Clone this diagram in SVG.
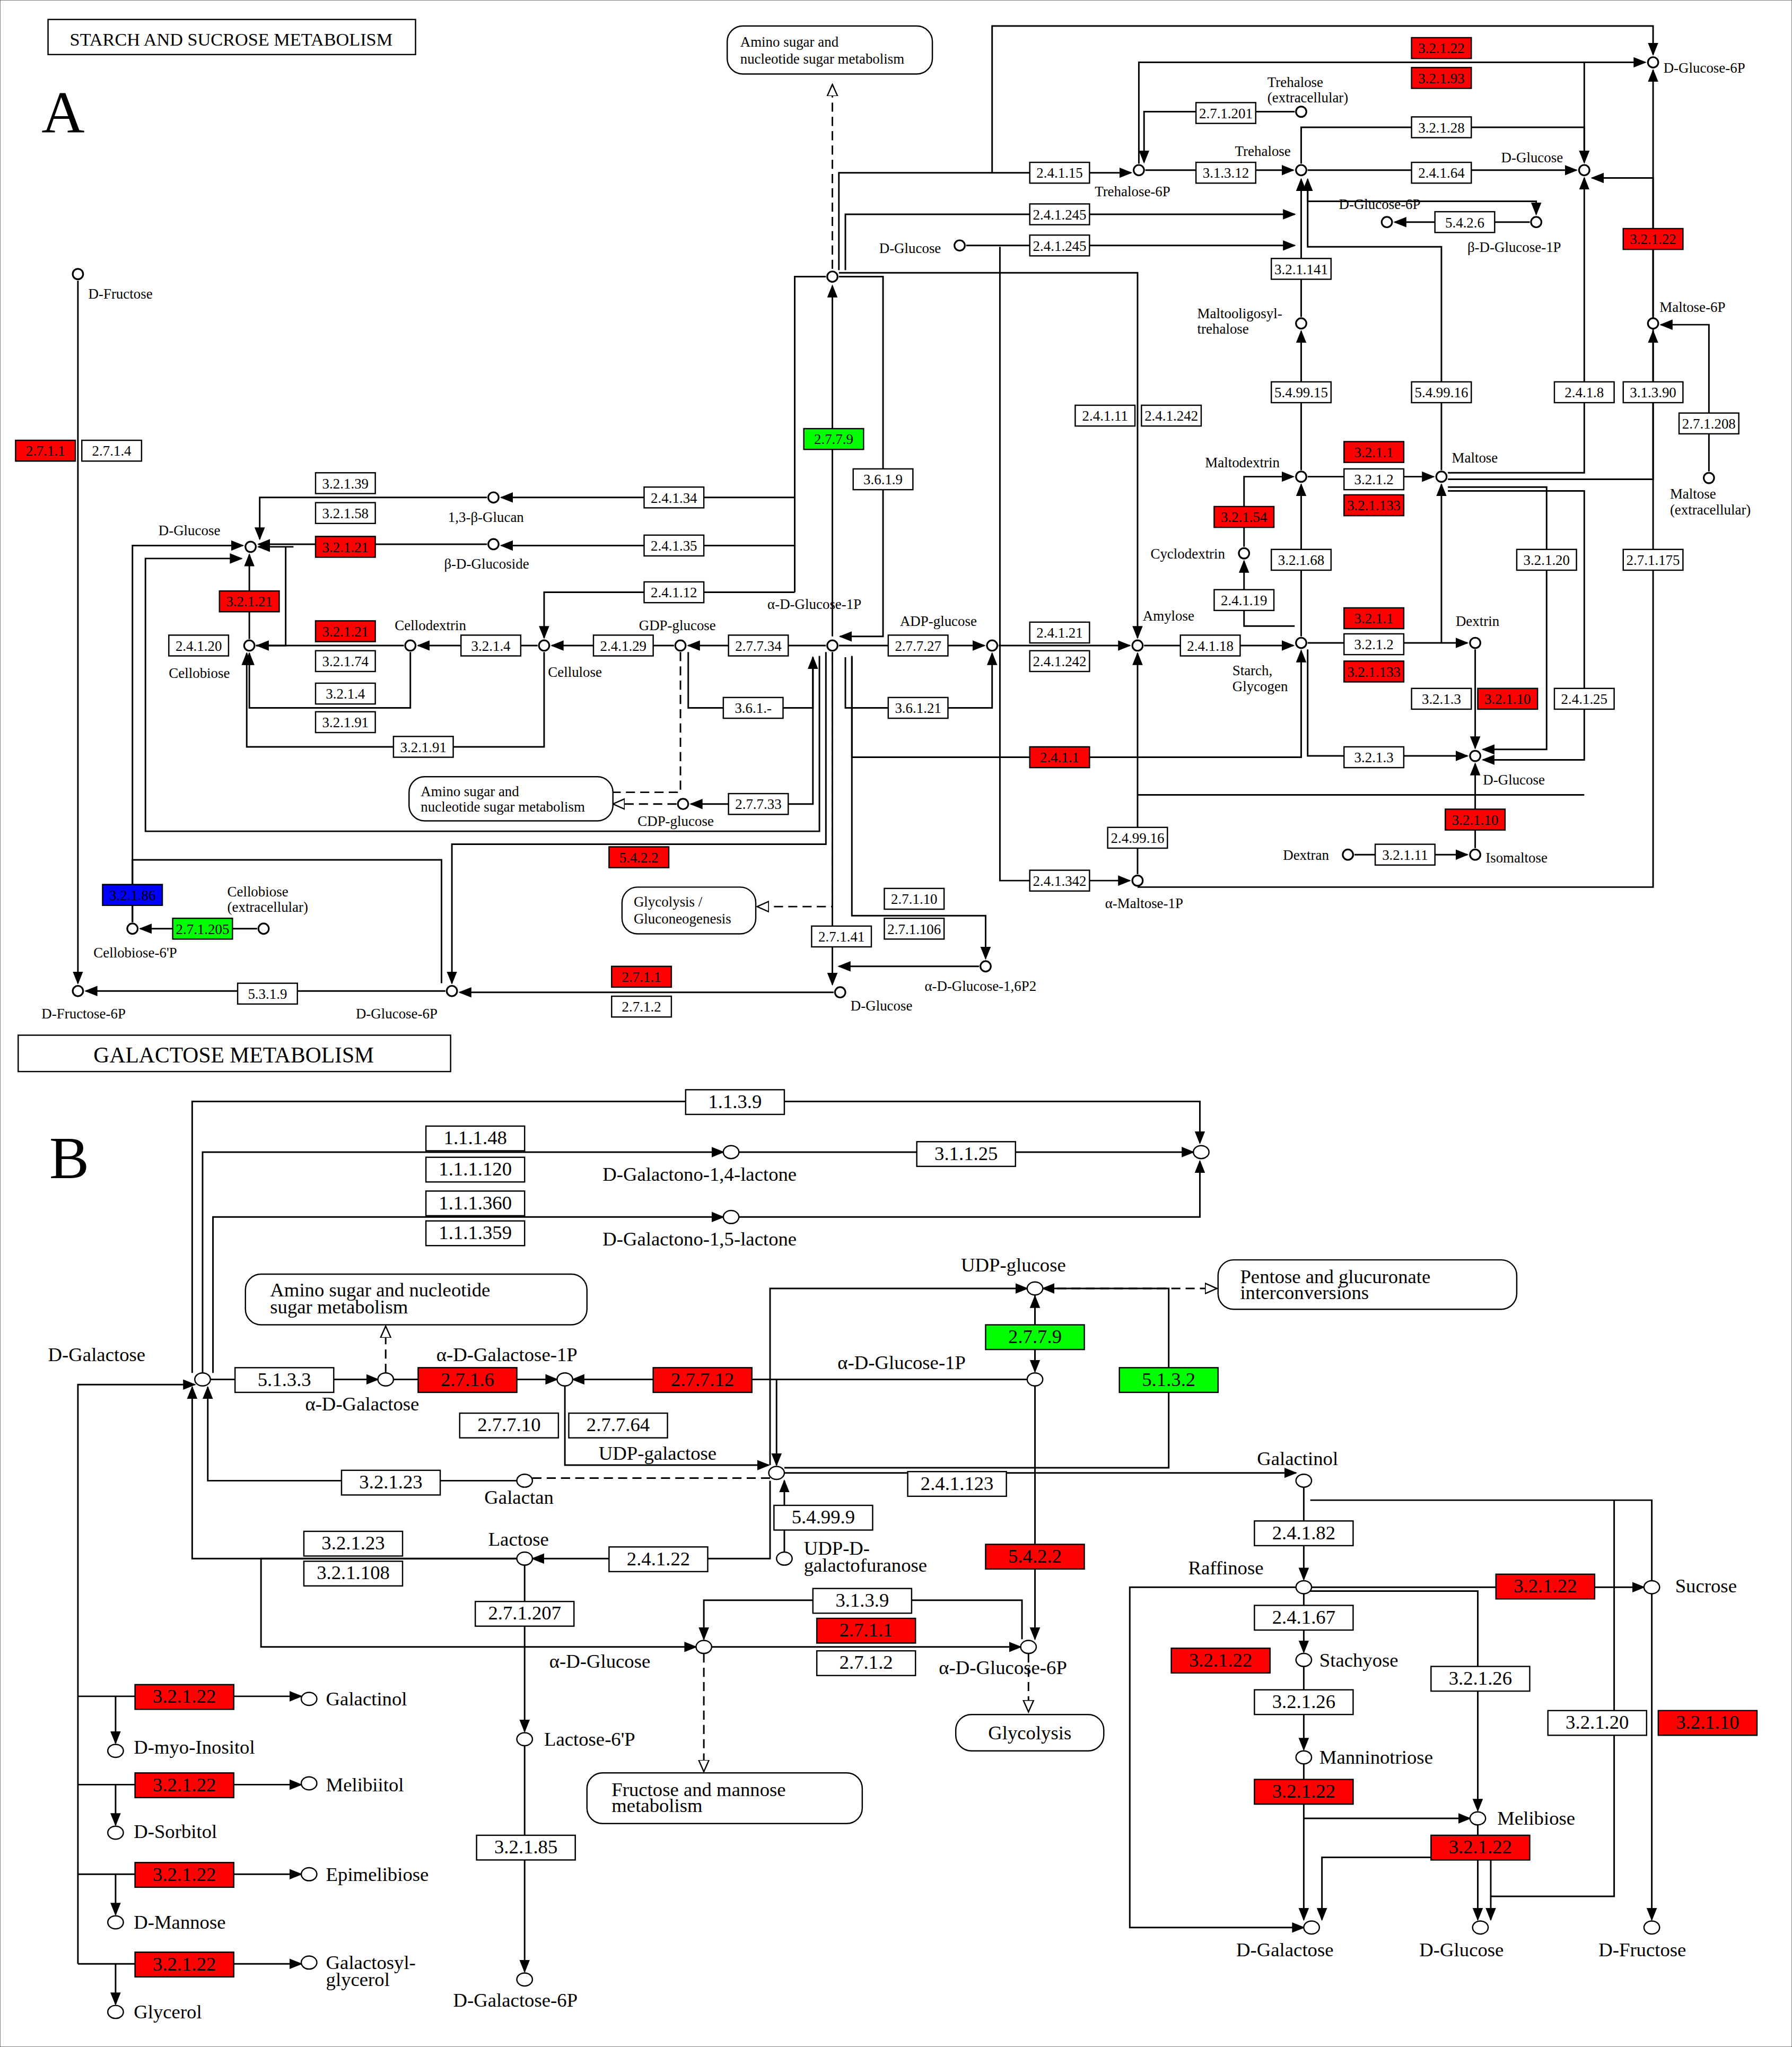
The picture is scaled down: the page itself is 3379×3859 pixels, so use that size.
<svg xmlns="http://www.w3.org/2000/svg" width="3379" height="3859" viewBox="0 0 3379 3859">
<style>
text{font-family:"Liberation Serif",serif;fill:#000}
.a text{font-size:11px}
.bb text{font-size:15px}
rect{stroke:#000;stroke-width:1;fill:#fff}
.r rect{fill:#f00}
.g rect{fill:#0f0}
.u rect{fill:#00f}
circle{fill:#fff;stroke:#000;stroke-width:1.3}
.c path{fill:none;stroke:#000;stroke-width:1.2;marker-end:url(#ar)}
.c path.n{marker-end:none}
.c path.d{stroke-dasharray:7 4;marker-end:url(#op)}
.c path.dn{stroke-dasharray:7 4;marker-end:none}
.m rect{rx:12}
</style>
<defs>
<marker id="ar" markerUnits="userSpaceOnUse" markerWidth="10" markerHeight="10" refX="9" refY="5" orient="auto"><path d="M0,1L10,5L0,9z" fill="#000"/></marker>
<marker id="op" markerUnits="userSpaceOnUse" markerWidth="10" markerHeight="10" refX="9" refY="5" orient="auto"><path d="M0,1L9,5L0,9z" fill="#fff" stroke="#000"/></marker>
</defs>
<rect x="0" y="0" width="3379" height="3859" fill="#fff" stroke="none"/>
<g transform="scale(2.4486)">
<g id="connectors" class="c">
<path d="M60,216V757"/>
<path d="M343,763H66"/>
<path d="M642,764H354"/>
<path d="M641,502V758"/>
<path d="M636,502V650H348V757"/>
<path d="M102,710V662H340V757" class="n"/>
<path d="M198,715H108"/>
<path d="M102,710V420H187"/>
<path d="M375,383H200V415"/>
<path d="M375,419H199"/>
<path d="M192,492V427"/>
<path d="M220,421V497H197" class="n"/>
<path d="M226,421H199"/>
<path d="M631,505V640H112V430H186"/>
<path d="M414,497H322"/>
<path d="M311,497H198"/>
<path d="M316,502V545H192V503"/>
<path d="M419,502V575H190V503"/>
<path d="M636,497H530"/>
<path d="M519,497H425"/>
<path d="M612,456H419V491"/>
<path d="M636,213H612V456" class="n"/>
<path d="M612,383H386"/>
<path d="M612,420H386"/>
<path d="M641,207V65" class="d"/>
<path d="M641,490V220"/>
<path d="M646,213H680V490H647"/>
<path d="M646,208V133H871"/>
<path d="M651,208V165H997"/>
<path d="M744,189H997"/>
<path d="M646,497H758"/>
<path d="M769,497H870"/>
<path d="M881,497H996"/>
<path d="M1002,490V373"/>
<path d="M1007,495H1130"/>
<path d="M1007,500V582H1130"/>
<path d="M1007,367H1104"/>
<path d="M1002,362V255"/>
<path d="M1002,244V138"/>
<path d="M1110,362V190H1007V138"/>
<path d="M1115,364H1220V137"/>
<path d="M1115,369H1273V255"/>
<path d="M1273,244V54"/>
<path d="M1316,363V250H1279"/>
<path d="M1115,375H1191V577H1142"/>
<path d="M1110,495V373"/>
<path d="M1136,500V576"/>
<path d="M1115,378H1220V585H1142"/>
<path d="M1136,653V588"/>
<path d="M1043,658H1130"/>
<path d="M958,421V367H996"/>
<path d="M997,482H958V432"/>
<path d="M876,673V503"/>
<path d="M876,612H1220" class="n"/>
<path d="M770,190V678H870"/>
<path d="M876,683H1273V137H1226"/>
<path d="M1007,131H1214"/>
<path d="M1002,126V98H1220V125"/>
<path d="M877,126V48H1267"/>
<path d="M1220,48V125"/>
<path d="M997,86H881V125"/>
<path d="M882,131H996"/>
<path d="M764,133V20H1273V42"/>
<path d="M1007,140V155H1183V165"/>
<path d="M1178,171H1074"/>
<path d="M646,210H876V491"/>
<path d="M656,505V583H1002V501"/>
<path d="M530,502V545H626V506"/>
<path d="M651,506V545H764V503"/>
<path d="M626,506V619H532"/>
<path d="M521,619H472" class="d"/>
<path d="M524,502V610H472" class="dn"/>
<path d="M641,505V698H583" class="d"/>
<path d="M656,506V705H759V738"/>
<path d="M754,744H646"/>
<!-- Part B -->
<path d="M148,1057V848H924V880"/>
<path d="M156,1057V887H557"/>
<path d="M164,1057V937H557"/>
<path d="M568,887H919"/>
<path d="M568,937H924V894"/>
<path d="M161,1062H291"/>
<path d="M302,1062H429"/>
<path d="M297,1057V1021" class="d"/>
<path d="M792,1062H441"/>
<path d="M598,1062V1128"/>
<path d="M797,997V1056"/>
<path d="M797,1056V998"/>
<path d="M803,992H937" class="d"/>
<path d="M435,1067V1128H592"/>
<path d="M604,1130H900V992H803"/>
<path d="M593,1128V992H791"/>
<path d="M593,1138H410" class="dn"/>
<path d="M399,1140H160V1068"/>
<path d="M604,1134H998"/>
<path d="M604,1195V1140"/>
<path d="M593,1140V1200H410"/>
<path d="M399,1200H148V1068"/>
<path d="M404,1200H201V1268H536"/>
<path d="M404,1205V1333"/>
<path d="M404,1344V1518"/>
<path d="M548,1268H786"/>
<path d="M787,1262V1232H542V1262"/>
<path d="M542,1273V1364" class="d"/>
<path d="M797,1067V1262"/>
<path d="M792,1273V1318" class="d"/>
<path d="M1004,1145V1216"/>
<path d="M1009,1222H1266"/>
<path d="M1009,1155H1272V1217" class="n"/>
<path d="M1272,1227V1478"/>
<path d="M1004,1227V1272"/>
<path d="M1004,1283V1347"/>
<path d="M1004,1358V1478"/>
<path d="M1004,1400H1132"/>
<path d="M1009,1225H1138V1394"/>
<path d="M1138,1405V1478"/>
<path d="M1138,1430H1018V1478"/>
<path d="M1148,1430V1478"/>
<path d="M999,1222H870V1484H1004"/>
<path d="M1243,1155V1460H1148" class="n"/>
<path d="M60,1512V1066H150"/>
<path d="M60,1306H232"/><path d="M89,1306V1342"/>
<path d="M60,1374H232"/><path d="M89,1374V1405"/>
<path d="M60,1443H232"/><path d="M89,1443V1474"/>
<path d="M60,1512H232"/><path d="M89,1512V1543"/>
</g>

<g id="partA" class="a">
<rect x="37" y="15" width="283" height="27"/><text x="178" y="35" style="font-size:14px" text-anchor="middle">STARCH AND SUCROSE METABOLISM</text>
<text x="32" y="102" style="font-size:46px">A</text>
<g id="mapA1" class="m"><rect x="560" y="20" width="158" height="37"/><text x="570" y="36">Amino sugar and</text><text x="570" y="49">nucleotide sugar metabolism</text></g>
<g id="mapA2" class="m"><rect x="315" y="598" width="157" height="34"/><text x="324" y="613">Amino sugar and</text><text x="324" y="625">nucleotide sugar metabolism</text></g>
<g id="mapA3" class="m"><rect x="479" y="683" width="103" height="36"/><text x="488" y="698">Glycolysis /</text><text x="488" y="711">Gluconeogenesis</text></g>
<g text-anchor="middle">
<g class="r"><rect x="1087" y="29" width="46" height="16"/><text x="1110" y="41">3.2.1.22</text></g>
<g class="r"><rect x="1087" y="52" width="46" height="16"/><text x="1110" y="64">3.2.1.93</text></g>
<g><rect x="921" y="79" width="46" height="16"/><text x="944" y="91">2.7.1.201</text></g>
<g><rect x="1087" y="90" width="46" height="16"/><text x="1110" y="102">3.2.1.28</text></g>
<g><rect x="793" y="125" width="46" height="16"/><text x="816" y="137">2.4.1.15</text></g>
<g><rect x="921" y="125" width="46" height="16"/><text x="944" y="137">3.1.3.12</text></g>
<g><rect x="1087" y="125" width="46" height="16"/><text x="1110" y="137">2.4.1.64</text></g>
<g><rect x="793" y="157" width="46" height="16"/><text x="816" y="169">2.4.1.245</text></g>
<g><rect x="793" y="181" width="46" height="16"/><text x="816" y="193">2.4.1.245</text></g>
<g><rect x="1105" y="163" width="46" height="16"/><text x="1128" y="175">5.4.2.6</text></g>
<g class="r"><rect x="1250" y="176" width="46" height="16"/><text x="1273" y="188">3.2.1.22</text></g>
<g><rect x="979" y="199" width="46" height="16"/><text x="1002" y="211">3.2.1.141</text></g>
<g><rect x="979" y="294" width="46" height="16"/><text x="1002" y="306">5.4.99.15</text></g>
<g><rect x="1087" y="294" width="46" height="16"/><text x="1110" y="306">5.4.99.16</text></g>
<g><rect x="1197" y="294" width="46" height="16"/><text x="1220" y="306">2.4.1.8</text></g>
<g><rect x="1250" y="294" width="46" height="16"/><text x="1273" y="306">3.1.3.90</text></g>
<g><rect x="1293" y="318" width="46" height="16"/><text x="1316" y="330">2.7.1.208</text></g>
<g><rect x="828" y="312" width="46" height="16"/><text x="851" y="324">2.4.1.11</text></g>
<g><rect x="879" y="312" width="46" height="16"/><text x="902" y="324">2.4.1.242</text></g>
<g class="g"><rect x="619" y="330" width="46" height="16"/><text x="642" y="342">2.7.7.9</text></g>
<g><rect x="657" y="361" width="46" height="16"/><text x="680" y="373">3.6.1.9</text></g>
<g class="r"><rect x="12" y="339" width="46" height="16"/><text x="35" y="351">2.7.1.1</text></g>
<g><rect x="63" y="339" width="46" height="16"/><text x="86" y="351">2.7.1.4</text></g>
<g><rect x="243" y="364" width="46" height="16"/><text x="266" y="376">3.2.1.39</text></g>
<g><rect x="243" y="387" width="46" height="16"/><text x="266" y="399">3.2.1.58</text></g>
<g class="r"><rect x="243" y="413" width="46" height="16"/><text x="266" y="425">3.2.1.21</text></g>
<g><rect x="496" y="375" width="46" height="16"/><text x="519" y="387">2.4.1.34</text></g>
<g><rect x="496" y="412" width="46" height="16"/><text x="519" y="424">2.4.1.35</text></g>
<g><rect x="496" y="448" width="46" height="16"/><text x="519" y="460">2.4.1.12</text></g>
<g class="r"><rect x="1035" y="340" width="46" height="16"/><text x="1058" y="352">3.2.1.1</text></g>
<g><rect x="1035" y="361" width="46" height="16"/><text x="1058" y="373">3.2.1.2</text></g>
<g class="r"><rect x="1035" y="381" width="46" height="16"/><text x="1058" y="393">3.2.1.133</text></g>
<g class="r"><rect x="935" y="390" width="46" height="16"/><text x="958" y="402">3.2.1.54</text></g>
<g><rect x="979" y="423" width="46" height="16"/><text x="1002" y="435">3.2.1.68</text></g>
<g><rect x="935" y="454" width="46" height="16"/><text x="958" y="466">2.4.1.19</text></g>
<g><rect x="1168" y="423" width="46" height="16"/><text x="1191" y="435">3.2.1.20</text></g>
<g><rect x="1250" y="423" width="46" height="16"/><text x="1273" y="435">2.7.1.175</text></g>
<g class="r"><rect x="169" y="455" width="46" height="16"/><text x="192" y="467">3.2.1.21</text></g>
<g><rect x="130" y="489" width="46" height="16"/><text x="153" y="501">2.4.1.20</text></g>
<g class="r"><rect x="243" y="478" width="46" height="16"/><text x="266" y="490">3.2.1.21</text></g>
<g><rect x="243" y="501" width="46" height="16"/><text x="266" y="513">3.2.1.74</text></g>
<g><rect x="243" y="526" width="46" height="16"/><text x="266" y="538">3.2.1.4</text></g>
<g><rect x="243" y="548" width="46" height="16"/><text x="266" y="560">3.2.1.91</text></g>
<g><rect x="355" y="489" width="46" height="16"/><text x="378" y="501">3.2.1.4</text></g>
<g><rect x="457" y="489" width="46" height="16"/><text x="480" y="501">2.4.1.29</text></g>
<g><rect x="561" y="489" width="46" height="16"/><text x="584" y="501">2.7.7.34</text></g>
<g><rect x="684" y="489" width="46" height="16"/><text x="707" y="501">2.7.7.27</text></g>
<g><rect x="793" y="479" width="46" height="16"/><text x="816" y="491">2.4.1.21</text></g>
<g><rect x="793" y="501" width="46" height="16"/><text x="816" y="513">2.4.1.242</text></g>
<g><rect x="909" y="489" width="46" height="16"/><text x="932" y="501">2.4.1.18</text></g>
<g class="r"><rect x="1035" y="468" width="46" height="16"/><text x="1058" y="480">3.2.1.1</text></g>
<g><rect x="1035" y="488" width="46" height="16"/><text x="1058" y="500">3.2.1.2</text></g>
<g class="r"><rect x="1035" y="509" width="46" height="16"/><text x="1058" y="521">3.2.1.133</text></g>
<g><rect x="1087" y="530" width="46" height="16"/><text x="1110" y="542">3.2.1.3</text></g>
<g class="r"><rect x="1138" y="530" width="46" height="16"/><text x="1161" y="542">3.2.1.10</text></g>
<g><rect x="1197" y="530" width="46" height="16"/><text x="1220" y="542">2.4.1.25</text></g>
<g><rect x="557" y="537" width="46" height="16"/><text x="580" y="549">3.6.1.-</text></g>
<g><rect x="684" y="537" width="46" height="16"/><text x="707" y="549">3.6.1.21</text></g>
<g><rect x="303" y="567" width="46" height="16"/><text x="326" y="579">3.2.1.91</text></g>
<g class="r"><rect x="793" y="575" width="46" height="16"/><text x="816" y="587">2.4.1.1</text></g>
<g><rect x="1035" y="575" width="46" height="16"/><text x="1058" y="587">3.2.1.3</text></g>
<g><rect x="561" y="611" width="46" height="16"/><text x="584" y="623">2.7.7.33</text></g>
<g class="r"><rect x="1113" y="623" width="46" height="16"/><text x="1136" y="635">3.2.1.10</text></g>
<g><rect x="853" y="637" width="46" height="16"/><text x="876" y="649">2.4.99.16</text></g>
<g class="r"><rect x="469" y="652" width="46" height="16"/><text x="492" y="664">5.4.2.2</text></g>
<g><rect x="1059" y="650" width="46" height="16"/><text x="1082" y="662">3.2.1.11</text></g>
<g><rect x="793" y="670" width="46" height="16"/><text x="816" y="682">2.4.1.342</text></g>
<g class="u"><rect x="79" y="681" width="46" height="16"/><text x="102" y="693">3.2.1.86</text></g>
<g class="g"><rect x="133" y="707" width="46" height="16"/><text x="156" y="719">2.7.1.205</text></g>
<g><rect x="681" y="684" width="46" height="16"/><text x="704" y="696">2.7.1.10</text></g>
<g><rect x="681" y="707" width="46" height="16"/><text x="704" y="719">2.7.1.106</text></g>
<g><rect x="625" y="713" width="46" height="16"/><text x="648" y="725">2.7.1.41</text></g>
<g class="r"><rect x="471" y="744" width="46" height="16"/><text x="494" y="756">2.7.1.1</text></g>
<g><rect x="471" y="767" width="46" height="16"/><text x="494" y="779">2.7.1.2</text></g>
<g><rect x="183" y="757" width="46" height="16"/><text x="206" y="769">5.3.1.9</text></g>
</g>
<g id="nodesA">
<circle cx="1273" cy="48" r="4"/><text x="1281" y="56">D-Glucose-6P</text>
<circle cx="1002" cy="86" r="4"/><text x="976" y="67">Trehalose</text><text x="976" y="79">(extracellular)</text>
<circle cx="877" cy="131" r="4"/><text x="843" y="151">Trehalose-6P</text>
<circle cx="1002" cy="131" r="4"/><text x="951" y="120">Trehalose</text>
<circle cx="1220" cy="131" r="4"/><text x="1156" y="125">D-Glucose</text>
<circle cx="1068" cy="171" r="4"/><text x="1031" y="161">D-Glucose-6P</text>
<circle cx="1183" cy="171" r="4"/><text x="1130" y="194">β-D-Glucose-1P</text>
<circle cx="739" cy="189" r="4"/><text x="677" y="195">D-Glucose</text>
<circle cx="641" cy="213" r="4"/>
<circle cx="60" cy="211" r="4"/><text x="68" y="230">D-Fructose</text>
<circle cx="1002" cy="249" r="4"/><text x="922" y="245">Maltooligosyl-</text><text x="922" y="257">trehalose</text>
<circle cx="1273" cy="249" r="4"/><text x="1278" y="240">Maltose-6P</text>
<circle cx="1002" cy="367" r="4"/><text x="928" y="360">Maltodextrin</text>
<circle cx="1110" cy="367" r="4"/><text x="1118" y="356">Maltose</text>
<circle cx="1316" cy="368" r="4"/><text x="1286" y="384">Maltose</text><text x="1286" y="396">(extracellular)</text>
<circle cx="380" cy="383" r="4"/><text x="345" y="402">1,3-β-Glucan</text>
<circle cx="380" cy="419" r="4"/><text x="342" y="438">β-D-Glucoside</text>
<circle cx="193" cy="421" r="4"/><text x="122" y="412">D-Glucose</text>
<circle cx="958" cy="426" r="4"/><text x="886" y="430">Cyclodextrin</text>
<circle cx="192" cy="497" r="4"/><text x="130" y="522">Cellobiose</text>
<circle cx="316" cy="497" r="4"/><text x="304" y="485">Cellodextrin</text>
<circle cx="419" cy="497" r="4"/><text x="422" y="521">Cellulose</text>
<circle cx="524" cy="497" r="4"/><text x="492" y="485">GDP-glucose</text>
<circle cx="641" cy="497" r="4"/><text x="591" y="469">α-D-Glucose-1P</text>
<circle cx="764" cy="497" r="4"/><text x="693" y="482">ADP-glucose</text>
<circle cx="876" cy="497" r="4"/><text x="880" y="478">Amylose</text>
<circle cx="1002" cy="495" r="4"/><text x="949" y="520">Starch,</text><text x="949" y="532">Glycogen</text>
<circle cx="1136" cy="495" r="4"/><text x="1121" y="482">Dextrin</text>
<circle cx="1136" cy="582" r="4"/><text x="1142" y="604">D-Glucose</text>
<circle cx="526" cy="619" r="4"/><text x="491" y="636">CDP-glucose</text>
<circle cx="1038" cy="658" r="4"/><text x="988" y="662">Dextran</text>
<circle cx="1136" cy="658" r="4"/><text x="1144" y="664">Isomaltose</text>
<circle cx="876" cy="678" r="4"/><text x="851" y="699">α-Maltose-1P</text>
<circle cx="203" cy="715" r="4"/><text x="175" y="690">Cellobiose</text><text x="175" y="702">(extracellular)</text>
<circle cx="102" cy="715" r="4"/><text x="72" y="737">Cellobiose-6'P</text>
<circle cx="759" cy="744" r="4"/><text x="712" y="763">α-D-Glucose-1,6P2</text>
<circle cx="647" cy="764" r="4"/><text x="655" y="778">D-Glucose</text>
<circle cx="60" cy="763" r="4"/><text x="32" y="784">D-Fructose-6P</text>
<circle cx="348" cy="763" r="4"/><text x="274" y="784">D-Glucose-6P</text>
</g>
</g>

<g id="partB" class="bb">
<rect x="14" y="797" width="333" height="28" stroke-width="2"/><text x="180" y="818" style="font-size:17px" text-anchor="middle">GALACTOSE METABOLISM</text>
<text x="38" y="907" style="font-size:46px">B</text>
<g id="mapB1" class="m"><rect x="189" y="981" width="263" height="39"/><text x="208" y="998">Amino sugar and nucleotide</text><text x="208" y="1011">sugar metabolism</text></g>
<g id="mapB2" class="m"><rect x="938" y="970" width="230" height="38"/><text x="955" y="988">Pentose and glucuronate</text><text x="955" y="1000">interconversions</text></g>
<g id="mapB3" class="m"><rect x="736" y="1320" width="114" height="28"/><text x="793" y="1339" text-anchor="middle">Glycolysis</text></g>
<g id="mapB4" class="m"><rect x="452" y="1365" width="212" height="39"/><text x="471" y="1383">Fructose and mannose</text><text x="471" y="1395">metabolism</text></g>
<g text-anchor="middle">
<g><rect x="528" y="839" width="76" height="19"/><text x="566" y="853">1.1.3.9</text></g>
<g><rect x="328" y="867" width="76" height="19"/><text x="366" y="881">1.1.1.48</text></g>
<g><rect x="706" y="879" width="76" height="19"/><text x="744" y="893">3.1.1.25</text></g>
<g><rect x="328" y="891" width="76" height="19"/><text x="366" y="905">1.1.1.120</text></g>
<g><rect x="328" y="917" width="76" height="19"/><text x="366" y="931">1.1.1.360</text></g>
<g><rect x="328" y="940" width="76" height="19"/><text x="366" y="954">1.1.1.359</text></g>
<g class="g"><rect x="759" y="1020" width="76" height="19"/><text x="797" y="1034">2.7.7.9</text></g>
<g><rect x="181" y="1053" width="76" height="19"/><text x="219" y="1067">5.1.3.3</text></g>
<g class="r"><rect x="322" y="1053" width="76" height="19"/><text x="360" y="1067">2.7.1.6</text></g>
<g class="r"><rect x="503" y="1053" width="76" height="19"/><text x="541" y="1067">2.7.7.12</text></g>
<g class="g"><rect x="862" y="1053" width="76" height="19"/><text x="900" y="1067">5.1.3.2</text></g>
<g><rect x="354" y="1088" width="76" height="19"/><text x="392" y="1102">2.7.7.10</text></g>
<g><rect x="438" y="1088" width="76" height="19"/><text x="476" y="1102">2.7.7.64</text></g>
<g><rect x="263" y="1132" width="76" height="19"/><text x="301" y="1146">3.2.1.23</text></g>
<g><rect x="699" y="1133" width="76" height="19"/><text x="737" y="1147">2.4.1.123</text></g>
<g><rect x="596" y="1159" width="76" height="19"/><text x="634" y="1173">5.4.99.9</text></g>
<g><rect x="234" y="1179" width="76" height="19"/><text x="272" y="1193">3.2.1.23</text></g>
<g><rect x="234" y="1202" width="76" height="19"/><text x="272" y="1216">3.2.1.108</text></g>
<g><rect x="469" y="1191" width="76" height="19"/><text x="507" y="1205">2.4.1.22</text></g>
<g class="r"><rect x="759" y="1189" width="76" height="19"/><text x="797" y="1203">5.4.2.2</text></g>
<g><rect x="966" y="1171" width="76" height="19"/><text x="1004" y="1185">2.4.1.82</text></g>
<g><rect x="626" y="1223" width="76" height="19"/><text x="664" y="1237">3.1.3.9</text></g>
<g><rect x="366" y="1233" width="76" height="19"/><text x="404" y="1247">2.7.1.207</text></g>
<g><rect x="966" y="1236" width="76" height="19"/><text x="1004" y="1250">2.4.1.67</text></g>
<g class="r"><rect x="629" y="1246" width="76" height="19"/><text x="667" y="1260">2.7.1.1</text></g>
<g><rect x="629" y="1271" width="76" height="19"/><text x="667" y="1285">2.7.1.2</text></g>
<g class="r"><rect x="1152" y="1212" width="76" height="19"/><text x="1190" y="1226">3.2.1.22</text></g>
<g class="r"><rect x="902" y="1269" width="76" height="19"/><text x="940" y="1283">3.2.1.22</text></g>
<g><rect x="966" y="1301" width="76" height="19"/><text x="1004" y="1315">3.2.1.26</text></g>
<g><rect x="1102" y="1283" width="76" height="19"/><text x="1140" y="1297">3.2.1.26</text></g>
<g><rect x="1192" y="1317" width="76" height="19"/><text x="1230" y="1331">3.2.1.20</text></g>
<g class="r"><rect x="1277" y="1317" width="76" height="19"/><text x="1315" y="1331">3.2.1.10</text></g>
<g class="r"><rect x="966" y="1370" width="76" height="19"/><text x="1004" y="1384">3.2.1.22</text></g>
<g class="r"><rect x="1102" y="1413" width="76" height="19"/><text x="1140" y="1427">3.2.1.22</text></g>
<g class="r"><rect x="104" y="1297" width="76" height="19"/><text x="142" y="1311">3.2.1.22</text></g>
<g class="r"><rect x="104" y="1365" width="76" height="19"/><text x="142" y="1379">3.2.1.22</text></g>
<g class="r"><rect x="104" y="1434" width="76" height="19"/><text x="142" y="1448">3.2.1.22</text></g>
<g class="r"><rect x="104" y="1503" width="76" height="19"/><text x="142" y="1517">3.2.1.22</text></g>
<g><rect x="367" y="1413" width="76" height="19"/><text x="405" y="1427">3.2.1.85</text></g>
</g>
<g id="nodesB">
<ellipse cx="925" cy="887" rx="6" ry="5" fill="#fff" stroke="#000"/>
<ellipse cx="563" cy="887" rx="6" ry="5" fill="#fff" stroke="#000"/><text x="464" y="909">D-Galactono-1,4-lactone</text>
<ellipse cx="563" cy="937" rx="6" ry="5" fill="#fff" stroke="#000"/><text x="464" y="959">D-Galactono-1,5-lactone</text>
<ellipse cx="797" cy="992" rx="6" ry="5" fill="#fff" stroke="#000"/><text x="740" y="979">UDP-glucose</text>
<ellipse cx="156" cy="1062" rx="6" ry="5" fill="#fff" stroke="#000"/><text x="37" y="1048">D-Galactose</text>
<ellipse cx="297" cy="1062" rx="6" ry="5" fill="#fff" stroke="#000"/><text x="235" y="1086">α-D-Galactose</text>
<ellipse cx="435" cy="1062" rx="6" ry="5" fill="#fff" stroke="#000"/><text x="336" y="1048">α-D-Galactose-1P</text>
<ellipse cx="797" cy="1062" rx="6" ry="5" fill="#fff" stroke="#000"/><text x="645" y="1054">α-D-Glucose-1P</text>
<ellipse cx="598" cy="1134" rx="6" ry="5" fill="#fff" stroke="#000"/><text x="461" y="1124">UDP-galactose</text>
<ellipse cx="404" cy="1140" rx="6" ry="5" fill="#fff" stroke="#000"/><text x="373" y="1158">Galactan</text>
<ellipse cx="1004" cy="1140" rx="6" ry="5" fill="#fff" stroke="#000"/><text x="968" y="1128">Galactinol</text>
<ellipse cx="604" cy="1200" rx="6" ry="5" fill="#fff" stroke="#000"/><text x="619" y="1197">UDP-D-</text><text x="619" y="1210">galactofuranose</text>
<ellipse cx="404" cy="1200" rx="6" ry="5" fill="#fff" stroke="#000"/><text x="376" y="1190">Lactose</text>
<ellipse cx="1004" cy="1222" rx="6" ry="5" fill="#fff" stroke="#000"/><text x="915" y="1212">Raffinose</text>
<ellipse cx="1272" cy="1222" rx="6" ry="5" fill="#fff" stroke="#000"/><text x="1290" y="1226">Sucrose</text>
<ellipse cx="1004" cy="1278" rx="6" ry="5" fill="#fff" stroke="#000"/><text x="1016" y="1283">Stachyose</text>
<ellipse cx="542" cy="1268" rx="6" ry="5" fill="#fff" stroke="#000"/><text x="423" y="1284">α-D-Glucose</text>
<ellipse cx="792" cy="1268" rx="6" ry="5" fill="#fff" stroke="#000"/><text x="723" y="1289">α-D-Glucose-6P</text>
<ellipse cx="238" cy="1308" rx="6" ry="5" fill="#fff" stroke="#000"/><text x="251" y="1313">Galactinol</text>
<ellipse cx="89" cy="1348" rx="6" ry="5" fill="#fff" stroke="#000"/><text x="103" y="1350">D-myo-Inositol</text>
<ellipse cx="404" cy="1339" rx="6" ry="5" fill="#fff" stroke="#000"/><text x="419" y="1344">Lactose-6'P</text>
<ellipse cx="1004" cy="1353" rx="6" ry="5" fill="#fff" stroke="#000"/><text x="1016" y="1358">Manninotriose</text>
<ellipse cx="238" cy="1373" rx="6" ry="5" fill="#fff" stroke="#000"/><text x="251" y="1379">Melibiitol</text>
<ellipse cx="89" cy="1411" rx="6" ry="5" fill="#fff" stroke="#000"/><text x="103" y="1415">D-Sorbitol</text>
<ellipse cx="1138" cy="1400" rx="6" ry="5" fill="#fff" stroke="#000"/><text x="1153" y="1405">Melibiose</text>
<ellipse cx="238" cy="1443" rx="6" ry="5" fill="#fff" stroke="#000"/><text x="251" y="1448">Epimelibiose</text>
<ellipse cx="89" cy="1480" rx="6" ry="5" fill="#fff" stroke="#000"/><text x="103" y="1485">D-Mannose</text>
<ellipse cx="1010" cy="1484" rx="6" ry="5" fill="#fff" stroke="#000"/><text x="952" y="1506">D-Galactose</text>
<ellipse cx="1140" cy="1484" rx="6" ry="5" fill="#fff" stroke="#000"/><text x="1093" y="1506">D-Glucose</text>
<ellipse cx="1272" cy="1484" rx="6" ry="5" fill="#fff" stroke="#000"/><text x="1231" y="1506">D-Fructose</text>
<ellipse cx="238" cy="1511" rx="6" ry="5" fill="#fff" stroke="#000"/><text x="251" y="1516">Galactosyl-</text><text x="251" y="1529">glycerol</text>
<ellipse cx="89" cy="1549" rx="6" ry="5" fill="#fff" stroke="#000"/><text x="103" y="1554">Glycerol</text>
<ellipse cx="404" cy="1524" rx="6" ry="5" fill="#fff" stroke="#000"/><text x="349" y="1545">D-Galactose-6P</text>
</g>
</g>
</g>
</svg>
